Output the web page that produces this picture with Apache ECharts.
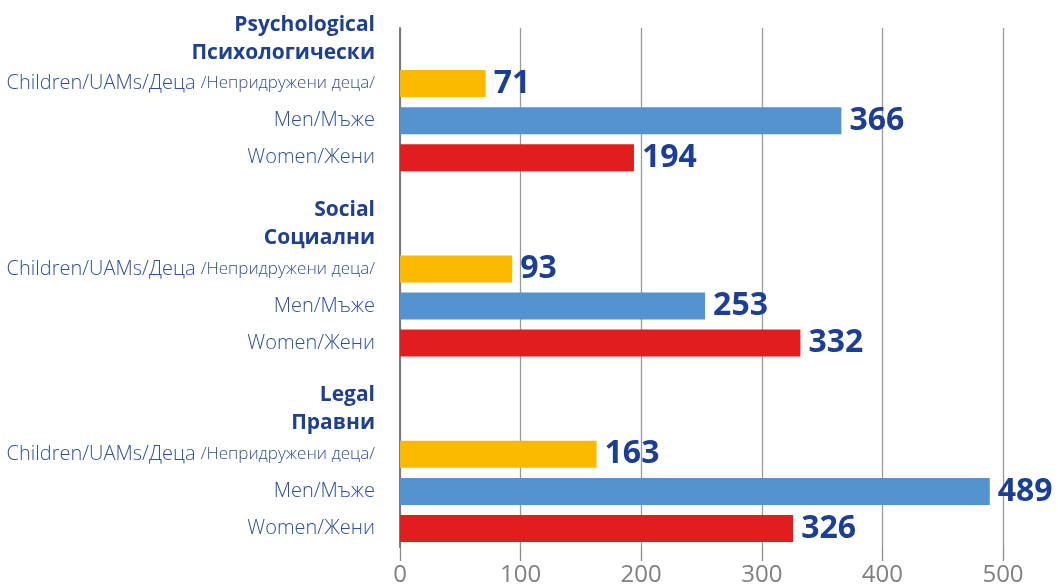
<!DOCTYPE html>
<html>
<head>
<meta charset="utf-8">
<script src="https://cdn.jsdelivr.net/npm/echarts@6/dist/echarts.min.js"></script>
<style>
html,body{margin:0;padding:0;background:#fff;}
#chart{width:1058px;height:587px;}
</style>
</head>
<body>
<div id="chart"></div>
<script>
// ---- data ----
const groupsEn = ['Psychological', 'Social', 'Legal'];
const groupsBg = ['Психологически', 'Социални', 'Правни'];
const childrenLabelMain = 'Children/UAMs/Деца ';
const childrenLabelSub = '/Непридружени деца/';
const menLabel = 'Men/Мъже';
const womenLabel = 'Women/Жени';
const children = [71, 93, 163];
const men = [366, 253, 489];
const women = [194, 332, 326];
const xTicks = [0, 100, 200, 300, 400, 500];

// ---- build rows: header, children, men, women, (blank between groups) ----
const cats = [], catText = {};
const sChildren = [], sMen = [], sWomen = [];
groupsEn.forEach((g, i) => {
  const rows = [
    ['head' + i, '{h|' + groupsEn[i] + '}\n{h|' + groupsBg[i] + '}'],
    ['child' + i, '{a|' + childrenLabelMain + '}{b|' + childrenLabelSub + '}'],
    ['men' + i, '{a|' + menLabel + '}'],
    ['women' + i, '{a|' + womenLabel + '}']
  ];
  rows.forEach(r => { cats.push(r[0]); catText[r[0]] = r[1]; });
  sChildren.push('-', children[i], '-', '-');
  sMen.push('-', '-', men[i], '-');
  sWomen.push('-', '-', '-', women[i]);
  if (i < groupsEn.length - 1) {
    cats.push('blank' + i); catText['blank' + i] = '';
    sChildren.push('-'); sMen.push('-'); sWomen.push('-');
  }
});

const valueLabel = {
  show: true, position: 'right', distance: 8,
  fontFamily: 'Open Sans', fontWeight: 'bold', fontSize: 32, color: '#1C3F93'
};
function barSeries(name, data, color) {
  return {
    name, type: 'bar', data, barWidth: 27, barGap: '-100%',
    itemStyle: { color }, label: valueLabel, animation: false
  };
}

const chart = echarts.init(document.getElementById('chart'));
chart.setOption({
  animation: false,
  grid: { left: 400, right: 55, top: 28, bottom: 40, containLabel: false },
  xAxis: {
    type: 'value', min: 0, max: 500, interval: 100,
    axisLine: { show: false },
    axisTick: { show: true, length: 14, lineStyle: { color: '#8c8c8c', width: 1.3 } },
    splitLine: { show: true, lineStyle: { color: '#9a9a9a', width: 1.3 } },
    axisLabel: {
      margin: 16, fontFamily: 'Open Sans', fontSize: 24, color: '#808080',
      formatter: v => xTicks.includes(v) ? String(v) : ''
    }
  },
  yAxis: {
    type: 'category', data: cats, inverse: true,
    axisLine: { show: true, lineStyle: { color: '#7a7a7a', width: 2 } },
    axisTick: { show: false },
    axisLabel: {
      margin: 25, interval: 0,
      formatter: v => catText[v],
      rich: {
        h: { fontFamily: 'Open Sans', fontWeight: 'bold', fontSize: 21, color: '#1F3F8F', lineHeight: 28, align: 'right', padding: [0, 0, 16, 0] },
        a: { fontFamily: 'Open Sans', fontWeight: 300, fontSize: 20, color: '#2E4F9E', align: 'right' },
        b: { fontFamily: 'Open Sans', fontWeight: 300, fontSize: 17, color: '#2E4F9E', align: 'right' }
      }
    }
  },
  series: [
    barSeries('Children', sChildren, '#FBB900'),
    barSeries('Men', sMen, '#5592D0'),
    barSeries('Women', sWomen, '#E01E1E')
  ]
});
</script>
</body>
</html>
